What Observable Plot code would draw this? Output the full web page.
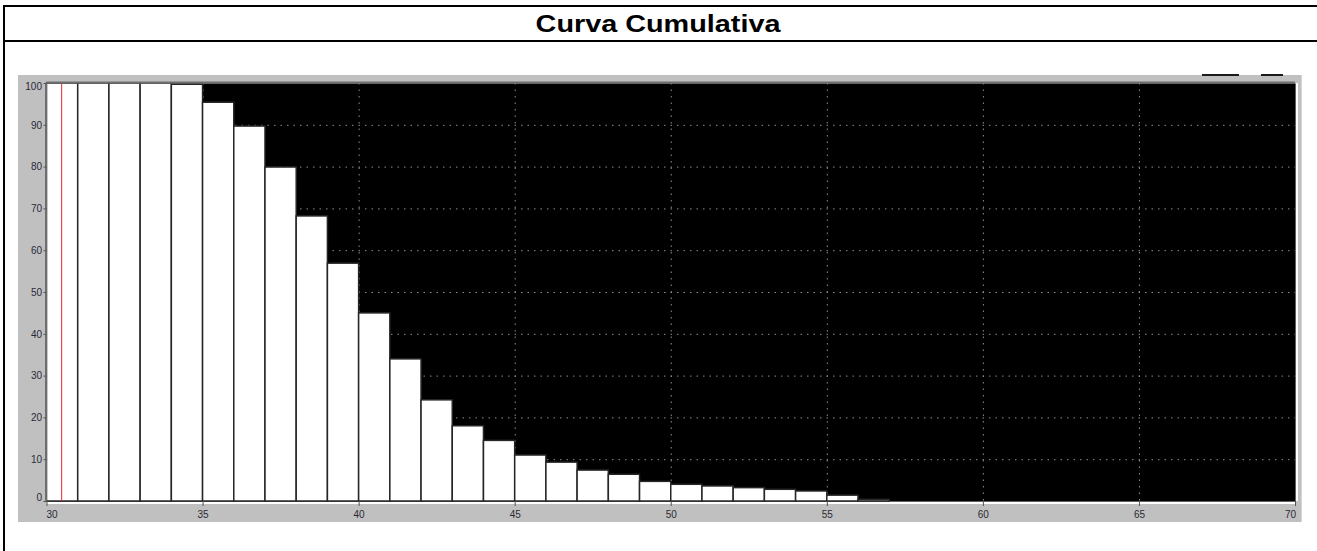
<!DOCTYPE html>
<html>
<head>
<meta charset="utf-8">
<script src="https://cdn.jsdelivr.net/npm/d3@7"></script>
<script src="https://cdn.jsdelivr.net/npm/@observablehq/plot@0.6"></script>
<style>
html, body { margin: 0; padding: 0; background: #fff; }
#page { position: relative; width: 1317px; height: 551px; overflow: hidden; font-family: "Liberation Sans", Arial, sans-serif; }
.bar { position: absolute; background: #000; }
#title { position: absolute; left: 0; top: 7px; width: 1317px; height: 33px; display: flex; align-items: center; justify-content: center; }
#title span { font-weight: bold; font-size: 24px; display: inline-block; transform: scaleX(1.2); color: #000; }
#panel { position: absolute; left: 18px; top: 75px; width: 1284px; height: 447px; background: #c0c0c0; border-right: 1px solid #d6d6d6; box-sizing: border-box; }
#chart { position: absolute; left: 18px; top: 75px; }
.knob { position: absolute; top: 74px; height: 2px; background: #1a1a1a; }
</style>
</head>
<body>
<div id="page">
  <div class="bar" style="left:3px;top:5px;width:1314px;height:2px"></div>
  <div class="bar" style="left:3px;top:40px;width:1314px;height:2px"></div>
  <div class="bar" style="left:3px;top:5px;width:2px;height:546px"></div>
  <div id="title"><span>Curva Cumulativa</span></div>
  <div id="panel"></div>
  <div class="knob" style="left:1202px;width:37px"></div>
  <div class="knob" style="left:1261px;width:22px"></div>
  <div id="chart"></div>
</div>
<script>
// ---- data ----
const bins = [30, 31, 32, 33, 34, 35, 36, 37, 38, 39, 40, 41, 42, 43, 44, 45, 46, 47, 48, 49, 50, 51, 52, 53, 54, 55, 56];
const cumulative = [100, 100, 100, 100, 99.7, 95.4, 89.7, 79.9, 68.2, 56.9, 45.0, 34.0, 24.2, 18.0, 14.5, 11.0, 9.3, 7.4, 6.4, 4.7, 4.0, 3.6, 3.2, 2.8, 2.4, 1.4, 0.4];
const markerX = [30.47];
const xTicks = [30, 35, 40, 45, 50, 55, 60, 65, 70];
const xTicksMid = [35, 40, 45, 50, 55, 60, 65];
const xGrid = [35, 40, 45, 50, 55, 60, 65];
const yTicks = [0, 10, 20, 30, 40, 50, 60, 70, 80, 90, 100];
const yTicksMid = [10, 20, 30, 40, 50, 60, 70, 80, 90];
const yGrid = [10, 20, 30, 40, 50, 60, 70, 80, 90];

const data = bins.map((b, i) => ({bin: b, pct: cumulative[i]}));

const labelColor = "#2a2a35";
const fs = 10;
const blank = () => "";
const common = {label: null, fill: labelColor, fontSize: fs};

const chart = Plot.plot({
  width: 1284,
  height: 447,
  marginLeft: 28.5,
  marginRight: 7,
  marginTop: 8,
  marginBottom: 21,
  style: {background: "transparent", fontFamily: "'Liberation Sans', Arial, sans-serif", fontSize: fs + "px", color: labelColor, overflow: "visible"},
  x: {domain: [30, 70], label: null},
  y: {domain: [0, 100], label: null},
  marks: [
    Plot.frame({fill: "#000", stroke: null}),
    Plot.ruleX(xGrid, {stroke: "#8e8e8e", strokeDasharray: "1.5,5"}),
    Plot.ruleY(yGrid, {stroke: "#8e8e8e", strokeDasharray: "1.5,5"}),
    Plot.rectY(data, {x1: "bin", x2: d => d.bin + 1, y: "pct", fill: "#fff", stroke: "#262626", strokeWidth: 1.5}),
    Plot.ruleX(markerX, {y1: 0, y2: 100, stroke: "#e8262b", strokeWidth: 1}),
    // sunken border of the plot panel
    Plot.ruleY([100], {stroke: "#6e6e6e", strokeWidth: 2, dy: -1}),
    Plot.ruleX([30], {stroke: "#6e6e6e", strokeWidth: 2, dx: -1}),
    Plot.ruleY([0], {stroke: "#fff", strokeWidth: 2, dy: 1.5}),
    Plot.ruleX([70], {stroke: "#fff", strokeWidth: 2, dx: 1.5}),
    // y axis
    Plot.axisY(yTicks, {label: null, tickSize: 3, tickPadding: 2, tickFormat: blank, stroke: "#555"}),
    Plot.axisY(yTicksMid, {...common, tickSize: 0, tickPadding: 5}),
    Plot.axisY([100], {...common, tickSize: 0, tickPadding: 5, dy: 3}),
    Plot.axisY([0], {...common, tickSize: 0, tickPadding: 5, dy: -4}),
    // x axis
    Plot.axisX(xTicks, {label: null, tickSize: 5, tickPadding: 0, tickFormat: blank, stroke: "#555"}),
    Plot.axisX(xTicksMid, {...common, tickSize: 0, tickPadding: 9}),
    Plot.axisX([30], {...common, tickSize: 0, tickPadding: 9, dx: 5}),
    Plot.axisX([70], {...common, tickSize: 0, tickPadding: 9, dx: -5})
  ]
});
document.getElementById("chart").appendChild(chart);
</script>
</body>
</html>
